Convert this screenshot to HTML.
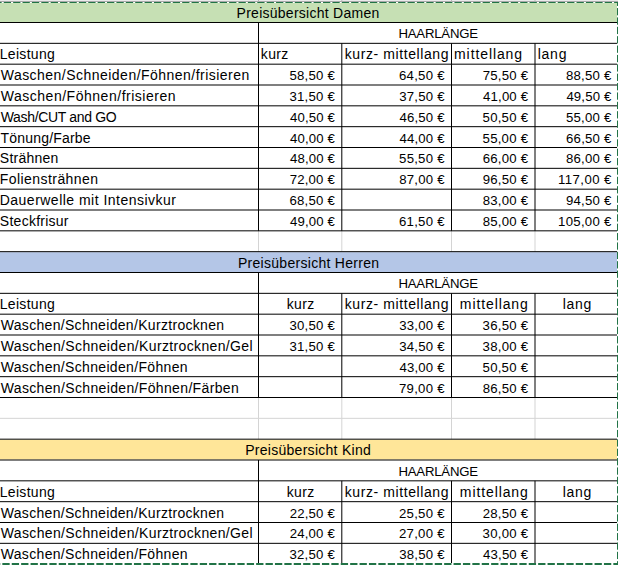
<!DOCTYPE html>
<html><head><meta charset="utf-8"><style>
html,body{margin:0;padding:0;background:#fff;width:618px;height:565px;overflow:hidden}
svg{position:absolute;left:0;top:0;display:block}
text{font-family:"Liberation Sans",sans-serif;font-size:14.0px;fill:#000}
</style></head><body>
<svg width="618" height="565" viewBox="0 0 618 565">
<rect x="0.00" y="0.00" width="618.00" height="1.00" fill="#ebebeb"/>
<rect x="0.00" y="1.00" width="618.00" height="1.00" fill="#a9a9a9"/>
<rect x="258.00" y="0.00" width="1.00" height="1.50" fill="#b8b8b8"/>
<rect x="341.30" y="0.00" width="1.00" height="1.50" fill="#b8b8b8"/>
<rect x="451.00" y="0.00" width="1.00" height="1.50" fill="#b8b8b8"/>
<rect x="534.50" y="0.00" width="1.00" height="1.50" fill="#b8b8b8"/>
<rect x="0.00" y="2.17" width="617.00" height="19.83" fill="#c6e0b4"/>
<rect x="0.00" y="252.17" width="617.00" height="19.83" fill="#b4c6e7"/>
<rect x="0.00" y="439.67" width="617.00" height="19.83" fill="#ffe699"/>
<rect x="258.00" y="230.83" width="1.00" height="20.83" fill="#d4d4d4"/>
<rect x="341.30" y="230.83" width="1.00" height="20.83" fill="#d4d4d4"/>
<rect x="451.00" y="230.83" width="1.00" height="20.83" fill="#d4d4d4"/>
<rect x="534.50" y="230.83" width="1.00" height="20.83" fill="#d4d4d4"/>
<rect x="258.00" y="397.50" width="1.00" height="20.83" fill="#d4d4d4"/>
<rect x="341.30" y="397.50" width="1.00" height="20.83" fill="#d4d4d4"/>
<rect x="451.00" y="397.50" width="1.00" height="20.83" fill="#d4d4d4"/>
<rect x="534.50" y="397.50" width="1.00" height="20.83" fill="#d4d4d4"/>
<rect x="258.00" y="418.33" width="1.00" height="20.83" fill="#d4d4d4"/>
<rect x="341.30" y="418.33" width="1.00" height="20.83" fill="#d4d4d4"/>
<rect x="451.00" y="418.33" width="1.00" height="20.83" fill="#d4d4d4"/>
<rect x="534.50" y="418.33" width="1.00" height="20.83" fill="#d4d4d4"/>
<rect x="0.00" y="417.83" width="618.00" height="1.00" fill="#d4d4d4"/>
<rect x="0.00" y="22.00" width="618.00" height="1.00" fill="#000"/>
<rect x="0.00" y="42.83" width="618.00" height="1.00" fill="#000"/>
<rect x="0.00" y="63.67" width="618.00" height="1.00" fill="#000"/>
<rect x="0.00" y="84.50" width="618.00" height="1.00" fill="#000"/>
<rect x="0.00" y="105.33" width="618.00" height="1.00" fill="#000"/>
<rect x="0.00" y="126.17" width="618.00" height="1.00" fill="#000"/>
<rect x="0.00" y="147.00" width="618.00" height="1.00" fill="#000"/>
<rect x="0.00" y="167.83" width="618.00" height="1.00" fill="#000"/>
<rect x="0.00" y="188.67" width="618.00" height="1.00" fill="#000"/>
<rect x="0.00" y="209.50" width="618.00" height="1.00" fill="#000"/>
<rect x="0.00" y="230.33" width="618.00" height="1.00" fill="#000"/>
<rect x="258.00" y="22.50" width="1.00" height="208.33" fill="#000"/>
<rect x="341.30" y="43.33" width="1.00" height="187.50" fill="#000"/>
<rect x="451.00" y="43.33" width="1.00" height="187.50" fill="#000"/>
<rect x="534.50" y="43.33" width="1.00" height="187.50" fill="#000"/>
<rect x="0.00" y="251.17" width="618.00" height="1.00" fill="#000"/>
<rect x="0.00" y="272.00" width="618.00" height="1.00" fill="#000"/>
<rect x="0.00" y="292.83" width="618.00" height="1.00" fill="#000"/>
<rect x="0.00" y="313.67" width="618.00" height="1.00" fill="#000"/>
<rect x="0.00" y="334.50" width="618.00" height="1.00" fill="#000"/>
<rect x="0.00" y="355.33" width="618.00" height="1.00" fill="#000"/>
<rect x="0.00" y="376.17" width="618.00" height="1.00" fill="#000"/>
<rect x="0.00" y="397.00" width="618.00" height="1.00" fill="#000"/>
<rect x="258.00" y="272.50" width="1.00" height="125.00" fill="#000"/>
<rect x="341.30" y="293.33" width="1.00" height="104.17" fill="#000"/>
<rect x="451.00" y="293.33" width="1.00" height="104.17" fill="#000"/>
<rect x="534.50" y="293.33" width="1.00" height="104.17" fill="#000"/>
<rect x="0.00" y="438.67" width="618.00" height="1.00" fill="#000"/>
<rect x="0.00" y="459.50" width="618.00" height="1.00" fill="#000"/>
<rect x="0.00" y="480.33" width="618.00" height="1.00" fill="#000"/>
<rect x="0.00" y="501.17" width="618.00" height="1.00" fill="#000"/>
<rect x="0.00" y="522.00" width="618.00" height="1.00" fill="#000"/>
<rect x="0.00" y="542.83" width="618.00" height="1.00" fill="#000"/>
<rect x="258.00" y="460.00" width="1.00" height="104.17" fill="#000"/>
<rect x="341.30" y="480.83" width="1.00" height="83.33" fill="#000"/>
<rect x="451.00" y="480.83" width="1.00" height="83.33" fill="#000"/>
<rect x="534.50" y="480.83" width="1.00" height="83.33" fill="#000"/>
<g>
<text x="236.56" y="17.60" textLength="142.70" lengthAdjust="spacing">Preisübersicht Damen</text>
<text x="398.43" y="38.43" style="font-size:13.2px" textLength="79.63" lengthAdjust="spacing">HAARLÄNGE</text>
<text x="-0.26" y="59.27" textLength="55.05" lengthAdjust="spacing">Leistung</text>
<text x="260.77" y="59.27" textLength="27.54" lengthAdjust="spacing">kurz</text>
<text x="344.77" y="59.27" textLength="103.75" lengthAdjust="spacing">kurz- mittellang</text>
<text x="454.06" y="59.27" textLength="68.04" lengthAdjust="spacing">mittellang</text>
<text x="537.64" y="59.27" textLength="28.83" lengthAdjust="spacing">lang</text>
<text x="0.72" y="80.10" textLength="248.54" lengthAdjust="spacing">Waschen/Schneiden/Föhnen/frisieren</text>
<text x="289.43" y="80.10" style="font-size:13.2px" textLength="45.36" lengthAdjust="spacing">58,50 €</text>
<text x="399.04" y="80.10" style="font-size:13.2px" textLength="45.46" lengthAdjust="spacing">64,50 €</text>
<text x="482.68" y="80.10" style="font-size:13.2px" textLength="45.32" lengthAdjust="spacing">75,50 €</text>
<text x="566.00" y="80.10" style="font-size:13.2px" textLength="45.31" lengthAdjust="spacing">88,50 €</text>
<text x="0.72" y="100.93" textLength="174.88" lengthAdjust="spacing">Waschen/Föhnen/frisieren</text>
<text x="289.43" y="100.93" style="font-size:13.2px" textLength="45.37" lengthAdjust="spacing">31,50 €</text>
<text x="399.21" y="100.93" style="font-size:13.2px" textLength="45.29" lengthAdjust="spacing">37,50 €</text>
<text x="483.11" y="100.93" style="font-size:13.2px" textLength="44.88" lengthAdjust="spacing">41,00 €</text>
<text x="566.38" y="100.93" style="font-size:13.2px" textLength="44.94" lengthAdjust="spacing">49,50 €</text>
<text x="0.72" y="121.77" textLength="115.85" lengthAdjust="spacing">Wash/CUT and GO</text>
<text x="289.92" y="121.77" style="font-size:13.2px" textLength="44.87" lengthAdjust="spacing">40,50 €</text>
<text x="399.47" y="121.77" style="font-size:13.2px" textLength="45.03" lengthAdjust="spacing">46,50 €</text>
<text x="482.58" y="121.77" style="font-size:13.2px" textLength="45.41" lengthAdjust="spacing">50,50 €</text>
<text x="565.95" y="121.77" style="font-size:13.2px" textLength="45.36" lengthAdjust="spacing">55,00 €</text>
<text x="0.59" y="142.60" textLength="89.96" lengthAdjust="spacing">Tönung/Farbe</text>
<text x="289.92" y="142.60" style="font-size:13.2px" textLength="44.87" lengthAdjust="spacing">40,00 €</text>
<text x="399.47" y="142.60" style="font-size:13.2px" textLength="45.03" lengthAdjust="spacing">44,00 €</text>
<text x="482.58" y="142.60" style="font-size:13.2px" textLength="45.41" lengthAdjust="spacing">55,00 €</text>
<text x="566.08" y="142.60" style="font-size:13.2px" textLength="45.23" lengthAdjust="spacing">66,50 €</text>
<text x="-0.15" y="163.43" textLength="58.41" lengthAdjust="spacing">Strähnen</text>
<text x="289.92" y="163.43" style="font-size:13.2px" textLength="44.87" lengthAdjust="spacing">48,00 €</text>
<text x="399.08" y="163.43" style="font-size:13.2px" textLength="45.42" lengthAdjust="spacing">55,50 €</text>
<text x="482.63" y="163.43" style="font-size:13.2px" textLength="45.36" lengthAdjust="spacing">66,00 €</text>
<text x="566.00" y="163.43" style="font-size:13.2px" textLength="45.31" lengthAdjust="spacing">86,00 €</text>
<text x="-0.26" y="184.27" textLength="98.34" lengthAdjust="spacing">Foliensträhnen</text>
<text x="289.67" y="184.27" style="font-size:13.2px" textLength="45.12" lengthAdjust="spacing">72,00 €</text>
<text x="399.26" y="184.27" style="font-size:13.2px" textLength="45.25" lengthAdjust="spacing">87,00 €</text>
<text x="482.74" y="184.27" style="font-size:13.2px" textLength="45.25" lengthAdjust="spacing">96,50 €</text>
<text x="558.10" y="184.27" style="font-size:13.2px" textLength="53.22" lengthAdjust="spacing">117,00 €</text>
<text x="-0.26" y="205.10" textLength="176.14" lengthAdjust="spacing">Dauerwelle mit Intensivkur</text>
<text x="289.53" y="205.10" style="font-size:13.2px" textLength="45.27" lengthAdjust="spacing">68,50 €</text>
<text x="482.72" y="205.10" style="font-size:13.2px" textLength="45.27" lengthAdjust="spacing">83,00 €</text>
<text x="566.01" y="205.10" style="font-size:13.2px" textLength="45.30" lengthAdjust="spacing">94,50 €</text>
<text x="-0.15" y="225.93" textLength="68.68" lengthAdjust="spacing">Steckfrisur</text>
<text x="289.92" y="225.93" style="font-size:13.2px" textLength="44.87" lengthAdjust="spacing">49,00 €</text>
<text x="399.04" y="225.93" style="font-size:13.2px" textLength="45.46" lengthAdjust="spacing">61,50 €</text>
<text x="482.72" y="225.93" style="font-size:13.2px" textLength="45.27" lengthAdjust="spacing">85,00 €</text>
<text x="558.10" y="225.93" style="font-size:13.2px" textLength="53.22" lengthAdjust="spacing">105,00 €</text>
<text x="237.95" y="267.60" textLength="141.13" lengthAdjust="spacing">Preisübersicht Herren</text>
<text x="398.43" y="288.43" style="font-size:13.2px" textLength="79.63" lengthAdjust="spacing">HAARLÄNGE</text>
<text x="-0.26" y="309.27" textLength="55.05" lengthAdjust="spacing">Leistung</text>
<text x="286.67" y="309.27" textLength="27.64" lengthAdjust="spacing">kurz</text>
<text x="344.77" y="309.27" textLength="103.75" lengthAdjust="spacing">kurz- mittellang</text>
<text x="459.87" y="309.27" textLength="67.93" lengthAdjust="spacing">mittellang</text>
<text x="562.67" y="309.27" textLength="28.65" lengthAdjust="spacing">lang</text>
<text x="0.72" y="330.10" textLength="223.38" lengthAdjust="spacing">Waschen/Schneiden/Kurztrocknen</text>
<text x="289.43" y="330.10" style="font-size:13.2px" textLength="45.37" lengthAdjust="spacing">30,50 €</text>
<text x="399.21" y="330.10" style="font-size:13.2px" textLength="45.29" lengthAdjust="spacing">33,00 €</text>
<text x="482.62" y="330.10" style="font-size:13.2px" textLength="45.37" lengthAdjust="spacing">36,50 €</text>
<text x="0.72" y="350.93" textLength="251.90" lengthAdjust="spacing">Waschen/Schneiden/Kurztrocknen/Gel</text>
<text x="289.43" y="350.93" style="font-size:13.2px" textLength="45.37" lengthAdjust="spacing">31,50 €</text>
<text x="399.21" y="350.93" style="font-size:13.2px" textLength="45.29" lengthAdjust="spacing">34,50 €</text>
<text x="482.62" y="350.93" style="font-size:13.2px" textLength="45.37" lengthAdjust="spacing">38,00 €</text>
<text x="0.72" y="371.77" textLength="186.88" lengthAdjust="spacing">Waschen/Schneiden/Föhnen</text>
<text x="399.47" y="371.77" style="font-size:13.2px" textLength="45.03" lengthAdjust="spacing">43,00 €</text>
<text x="482.58" y="371.77" style="font-size:13.2px" textLength="45.41" lengthAdjust="spacing">50,50 €</text>
<text x="0.72" y="392.60" textLength="238.02" lengthAdjust="spacing">Waschen/Schneiden/Föhnen/Färben</text>
<text x="399.04" y="392.60" style="font-size:13.2px" textLength="45.47" lengthAdjust="spacing">79,00 €</text>
<text x="482.72" y="392.60" style="font-size:13.2px" textLength="45.27" lengthAdjust="spacing">86,50 €</text>
<text x="245.22" y="455.10" textLength="125.56" lengthAdjust="spacing">Preisübersicht Kind</text>
<text x="398.43" y="475.93" style="font-size:13.2px" textLength="79.63" lengthAdjust="spacing">HAARLÄNGE</text>
<text x="-0.26" y="496.77" textLength="55.05" lengthAdjust="spacing">Leistung</text>
<text x="286.67" y="496.77" textLength="27.64" lengthAdjust="spacing">kurz</text>
<text x="344.77" y="496.77" textLength="103.75" lengthAdjust="spacing">kurz- mittellang</text>
<text x="459.87" y="496.77" textLength="67.93" lengthAdjust="spacing">mittellang</text>
<text x="562.67" y="496.77" textLength="28.65" lengthAdjust="spacing">lang</text>
<text x="0.72" y="517.60" textLength="223.38" lengthAdjust="spacing">Waschen/Schneiden/Kurztrocknen</text>
<text x="289.67" y="517.60" style="font-size:13.2px" textLength="45.12" lengthAdjust="spacing">22,50 €</text>
<text x="399.04" y="517.60" style="font-size:13.2px" textLength="45.47" lengthAdjust="spacing">25,50 €</text>
<text x="482.68" y="517.60" style="font-size:13.2px" textLength="45.32" lengthAdjust="spacing">28,50 €</text>
<text x="0.72" y="538.43" textLength="251.90" lengthAdjust="spacing">Waschen/Schneiden/Kurztrocknen/Gel</text>
<text x="289.67" y="538.43" style="font-size:13.2px" textLength="45.12" lengthAdjust="spacing">24,00 €</text>
<text x="399.04" y="538.43" style="font-size:13.2px" textLength="45.47" lengthAdjust="spacing">27,00 €</text>
<text x="482.62" y="538.43" style="font-size:13.2px" textLength="45.37" lengthAdjust="spacing">30,00 €</text>
<text x="0.72" y="559.27" textLength="186.88" lengthAdjust="spacing">Waschen/Schneiden/Föhnen</text>
<text x="289.43" y="559.27" style="font-size:13.2px" textLength="45.37" lengthAdjust="spacing">32,50 €</text>
<text x="399.21" y="559.27" style="font-size:13.2px" textLength="45.29" lengthAdjust="spacing">38,50 €</text>
<text x="483.11" y="559.27" style="font-size:13.2px" textLength="44.88" lengthAdjust="spacing">43,50 €</text>
</g>

<rect x="0" y="2" width="618" height="1" fill="#fff"/>
<rect x="617" y="2" width="1" height="563" fill="#fff"/>
<rect x="0" y="563" width="618" height="2" fill="#fff"/>
<line x1="0" y1="2.5" x2="617" y2="2.5" stroke="#217346" stroke-width="1" stroke-dasharray="7.29 2.1" stroke-dashoffset="5.64"/>
<line x1="617.5" y1="2" x2="617.5" y2="565" stroke="#217346" stroke-width="1" stroke-dasharray="7.275 2.1" stroke-dashoffset="3.325"/>
<line x1="0" y1="564" x2="618" y2="564" stroke="#217346" stroke-width="2" stroke-dasharray="7.3 2.1" stroke-dashoffset="7.05"/>

</svg>
</body></html>
